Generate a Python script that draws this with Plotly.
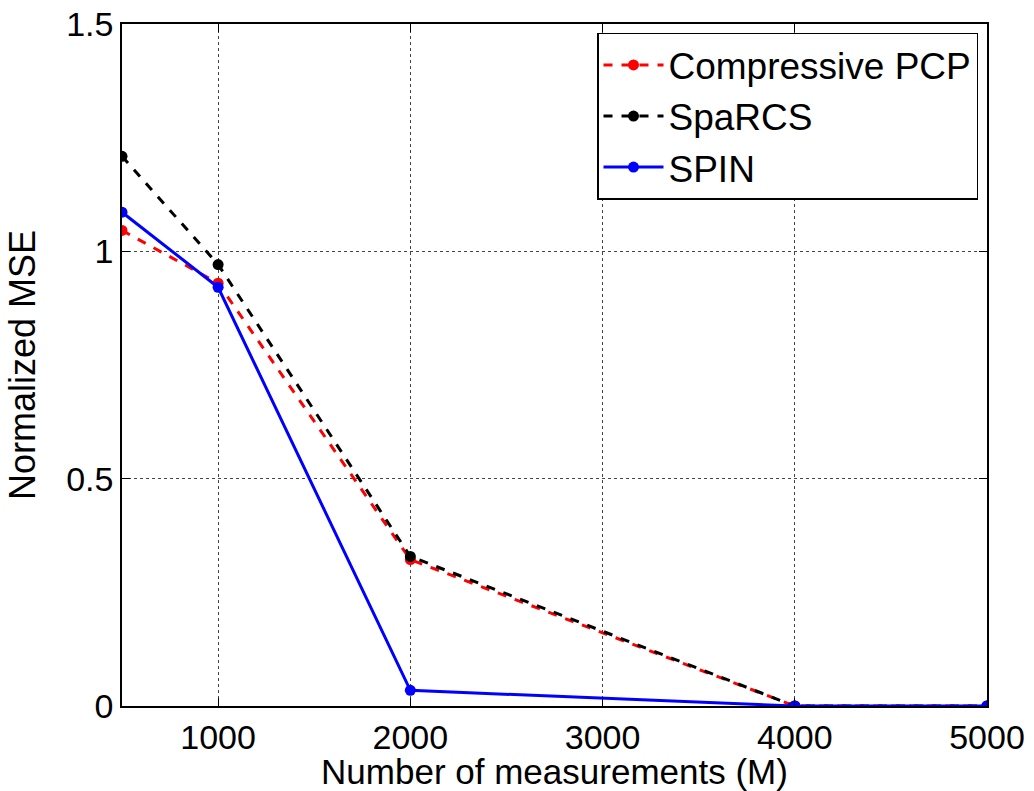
import plotly.graph_objects as go

measurements = [500, 1000, 2000, 4000, 5000]
pcp_mse = [1.046, 0.930, 0.322, 0.0, 0.0]
sparcs_mse = [1.209, 0.971, 0.329, 0.0, 0.0]
spin_mse = [1.086, 0.921, 0.0345, 0.0, 0.0]

x_ticks = [1000, 2000, 3000, 4000, 5000]
y_ticks = [0, 0.5, 1, 1.5]
y_tick_text = ["0", "0.5", "1", "1.5"]

font = "Liberation Sans, Arial, Helvetica, sans-serif"

fig = go.Figure()
fig.add_trace(go.Scatter(x=measurements, y=pcp_mse, name="Compressive PCP",
                         mode="lines+markers",
                         line=dict(color="red", width=3, dash="dash"),
                         marker=dict(color="red", size=11)))
fig.add_trace(go.Scatter(x=measurements, y=sparcs_mse, name="SpaRCS",
                         mode="lines+markers",
                         line=dict(color="black", width=3, dash="dash"),
                         marker=dict(color="black", size=11)))
fig.add_trace(go.Scatter(x=measurements, y=spin_mse, name="SPIN",
                         mode="lines+markers",
                         line=dict(color="blue", width=3),
                         marker=dict(color="blue", size=11)))

axis_common = dict(showline=True, linecolor="black", linewidth=1.5, mirror="ticks",
                   ticks="inside", ticklen=8, tickcolor="black",
                   showgrid=True, gridcolor="#444444", griddash="dot", gridwidth=1,
                   zeroline=False, automargin=False,
                   tickfont=dict(size=34, color="black"))

fig.update_xaxes(range=[500, 5000], tickvals=x_ticks,
                 title=dict(text="Number of measurements (M)", font=dict(size=35, color="black"),
                            standoff=0),
                 **axis_common)
fig.update_yaxes(range=[0, 1.5], tickvals=y_ticks, ticktext=y_tick_text,
                 title=dict(text="Normalized MSE", font=dict(size=36, color="black"),
                            standoff=20),
                 **axis_common)

fig.update_layout(
    width=1034, height=791,
    margin=dict(l=122, r=47, t=24, b=85),
    paper_bgcolor="white", plot_bgcolor="white",
    font=dict(family=font, color="black"),
    legend=dict(x=0.9896, y=0.987, xanchor="right", yanchor="top",
                bgcolor="white", bordercolor="black", borderwidth=1.5,
                font=dict(size=37, color="black"), tracegroupgap=0,
                itemwidth=60),
    showlegend=True,
)

fig.write_html("out.html", config={"displayModeBar": False},
               post_script="document.body.style.margin='0';")
